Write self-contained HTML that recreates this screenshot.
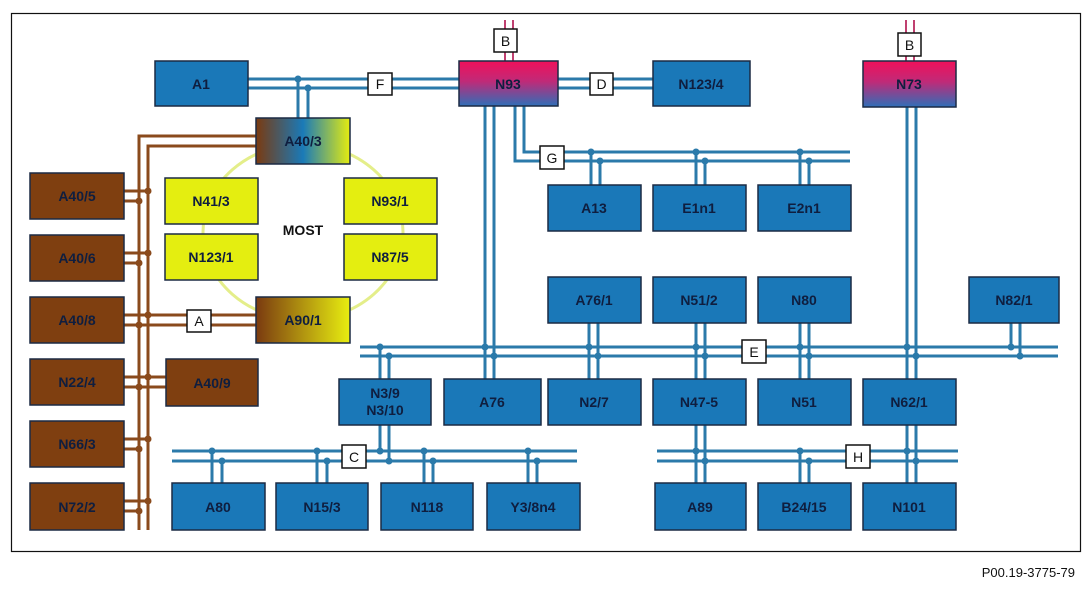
<!DOCTYPE html>
<html><head><meta charset="utf-8"><style>
html,body{margin:0;padding:0;background:#fff}
svg{display:block}
text{font-family:"Liberation Sans",Arial,sans-serif}
.bx{stroke:#1b2a44;stroke-width:1.5}
.lb{font-weight:bold;font-size:14px;fill:#0f1e3f;text-anchor:middle;dominant-baseline:central}
.bl{stroke:#2b7aaa;stroke-width:3;fill:none}
.br{stroke:#8a4a1c;stroke-width:3;fill:none}
.tag{fill:#fff;stroke:#111;stroke-width:1.5}
.tt{font-size:14px;fill:#111;text-anchor:middle;dominant-baseline:central}
</style></head><body>
<svg width="1092" height="591" viewBox="0 0 1092 591" xmlns="http://www.w3.org/2000/svg">
<defs>
<linearGradient id="mag" x1="0" y1="0" x2="0" y2="1"><stop offset="0" stop-color="#f0105a"/><stop offset="0.45" stop-color="#c02a78"/><stop offset="1" stop-color="#2f6fb8"/></linearGradient>
<linearGradient id="a403" x1="0" y1="0" x2="1" y2="0"><stop offset="0" stop-color="#7a3a10"/><stop offset="0.5" stop-color="#1a7ab8"/><stop offset="1" stop-color="#e4ec10"/></linearGradient>
<linearGradient id="a901" x1="0" y1="0" x2="1" y2="0"><stop offset="0" stop-color="#7a3a10"/><stop offset="1" stop-color="#e8ee10"/></linearGradient>
</defs>
<rect x="11.5" y="13.5" width="1069" height="538" fill="#fff" stroke="#111" stroke-width="1.2"/>

<!-- MOST ring -->
<ellipse cx="303" cy="232" rx="100" ry="88" fill="none" stroke="#e4ee8a" stroke-width="3"/>

<!-- Brown wiring -->
<g class="br">
<path d="M256 136H139V530"/><path d="M256 146H148V530"/>
<path d="M124 191H148M124 201H139"/>
<path d="M124 253H148M124 263H139"/>
<path d="M124 315H256M124 325H256"/>
<path d="M124 377H166M124 387H166"/>
<path d="M124 439H148M124 449H139"/>
<path d="M124 501H148M124 511H139"/>
</g>
<g fill="#8a4a1c">
<circle cx="148" cy="191" r="3.5"/><circle cx="139" cy="201" r="3.5"/>
<circle cx="148" cy="253" r="3.5"/><circle cx="139" cy="263" r="3.5"/>
<circle cx="148" cy="315" r="3.5"/><circle cx="139" cy="325" r="3.5"/>
<circle cx="148" cy="377" r="3.5"/><circle cx="139" cy="387" r="3.5"/>
<circle cx="148" cy="439" r="3.5"/><circle cx="139" cy="449" r="3.5"/>
<circle cx="148" cy="501" r="3.5"/><circle cx="139" cy="511" r="3.5"/>
</g>

<!-- Blue wiring -->
<g class="bl">
<path d="M248 79H459M248 88H459"/>
<path d="M298 79V118M308 88V118"/>
<path d="M558 79H653M558 88H653"/>
<path d="M505 61V20M513 61V20" stroke="#c04070" stroke-width="2"/>
<path d="M906 61V20M914 61V20" stroke="#c04070" stroke-width="2"/>
<path d="M485 106V379M494 106V379"/>
<path d="M515 106V161H850M524 106V152H850"/>
<path d="M591 152V185M600 161V185M696 152V185M705 161V185M800 152V185M809 161V185"/>
<path d="M907 107V483M916 107V483"/>
<path d="M360 347H1058M360 356H1058"/>
<path d="M380 347V451M389 356V461"/>
<path d="M589 323V379M598 323V379M696 323V483M705 323V483M800 323V379M809 323V379"/>
<path d="M1011 323V347M1020 323V356"/>
<path d="M172 451H577M172 461H577"/>
<path d="M212 451V483M222 461V483M317 451V483M327 461V483M424 451V483M433 461V483M528 451V483M537 461V483"/>
<path d="M657 451H958M657 461H958"/>
<path d="M800 451V483M809 461V483"/>
</g>
<g fill="#2b7aaa">
<circle cx="298" cy="79" r="3.5"/><circle cx="308" cy="88" r="3.5"/>
<circle cx="591" cy="152" r="3.5"/><circle cx="600" cy="161" r="3.5"/>
<circle cx="696" cy="152" r="3.5"/><circle cx="705" cy="161" r="3.5"/>
<circle cx="800" cy="152" r="3.5"/><circle cx="809" cy="161" r="3.5"/>
<circle cx="380" cy="347" r="3.5"/><circle cx="389" cy="356" r="3.5"/>
<circle cx="485" cy="347" r="3.5"/><circle cx="494" cy="356" r="3.5"/>
<circle cx="589" cy="347" r="3.5"/><circle cx="598" cy="356" r="3.5"/>
<circle cx="696" cy="347" r="3.5"/><circle cx="705" cy="356" r="3.5"/>
<circle cx="800" cy="347" r="3.5"/><circle cx="809" cy="356" r="3.5"/>
<circle cx="907" cy="347" r="3.5"/><circle cx="916" cy="356" r="3.5"/>
<circle cx="1011" cy="347" r="3.5"/><circle cx="1020" cy="356" r="3.5"/>
<circle cx="212" cy="451" r="3.5"/><circle cx="222" cy="461" r="3.5"/>
<circle cx="317" cy="451" r="3.5"/><circle cx="327" cy="461" r="3.5"/>
<circle cx="380" cy="451" r="3.5"/><circle cx="389" cy="461" r="3.5"/>
<circle cx="424" cy="451" r="3.5"/><circle cx="433" cy="461" r="3.5"/>
<circle cx="528" cy="451" r="3.5"/><circle cx="537" cy="461" r="3.5"/>
<circle cx="696" cy="451" r="3.5"/><circle cx="705" cy="461" r="3.5"/>
<circle cx="800" cy="451" r="3.5"/><circle cx="809" cy="461" r="3.5"/>
<circle cx="907" cy="451" r="3.5"/><circle cx="916" cy="461" r="3.5"/>
</g>

<!-- Boxes -->
<g class="bx" fill="#1a78b8">
<rect x="155" y="61" width="93" height="45"/>
<rect x="653" y="61" width="97" height="45"/>
<rect x="548" y="185" width="93" height="46"/><rect x="653" y="185" width="93" height="46"/><rect x="758" y="185" width="93" height="46"/>
<rect x="548" y="277" width="93" height="46"/><rect x="653" y="277" width="93" height="46"/><rect x="758" y="277" width="93" height="46"/>
<rect x="969" y="277" width="90" height="46"/>
<rect x="339" y="379" width="92" height="46"/><rect x="444" y="379" width="97" height="46"/>
<rect x="548" y="379" width="93" height="46"/><rect x="653" y="379" width="93" height="46"/><rect x="758" y="379" width="93" height="46"/><rect x="863" y="379" width="93" height="46"/>
<rect x="172" y="483" width="93" height="47"/><rect x="276" y="483" width="92" height="47"/><rect x="381" y="483" width="92" height="47"/><rect x="487" y="483" width="93" height="47"/>
<rect x="655" y="483" width="91" height="47"/><rect x="758" y="483" width="93" height="47"/><rect x="863" y="483" width="93" height="47"/>
</g>
<rect class="bx" x="459" y="61" width="99" height="45" fill="url(#mag)"/>
<rect class="bx" x="863" y="61" width="93" height="46" fill="url(#mag)"/>
<rect class="bx" x="256" y="118" width="94" height="46" fill="url(#a403)"/>
<rect class="bx" x="256" y="297" width="94" height="46" fill="url(#a901)"/>
<g class="bx" fill="#e4ee10">
<rect x="165" y="178" width="93" height="46"/><rect x="344" y="178" width="93" height="46"/>
<rect x="165" y="234" width="93" height="46"/><rect x="344" y="234" width="93" height="46"/>
</g>
<g class="bx" fill="#7f3f10">
<rect x="30" y="173" width="94" height="46"/><rect x="30" y="235" width="94" height="46"/>
<rect x="30" y="297" width="94" height="46"/><rect x="30" y="359" width="94" height="46"/>
<rect x="30" y="421" width="94" height="46"/><rect x="30" y="483" width="94" height="47"/>
<rect x="166" y="359" width="92" height="47"/>
</g>

<!-- Labels -->
<g class="lb">
<text x="201" y="84">A1</text><text x="508" y="84">N93</text><text x="701" y="84">N123/4</text><text x="909" y="84">N73</text>
<text x="303" y="141">A40/3</text><text x="303" y="320">A90/1</text>
<text x="211" y="201">N41/3</text><text x="390" y="201">N93/1</text>
<text x="211" y="257">N123/1</text><text x="390" y="257">N87/5</text>
<text x="303" y="230" style="fill:#111">MOST</text>
<text x="77" y="196">A40/5</text><text x="77" y="258">A40/6</text><text x="77" y="320">A40/8</text>
<text x="77" y="382">N22/4</text><text x="77" y="444">N66/3</text><text x="77" y="507">N72/2</text>
<text x="212" y="383">A40/9</text>
<text x="594" y="208">A13</text><text x="699" y="208">E1n1</text><text x="804" y="208">E2n1</text>
<text x="594" y="300">A76/1</text><text x="699" y="300">N51/2</text><text x="804" y="300">N80</text><text x="1014" y="300">N82/1</text>
<text x="385" y="393">N3/9</text><text x="385" y="410">N3/10</text>
<text x="492" y="402">A76</text><text x="594" y="402">N2/7</text><text x="699" y="402">N47-5</text><text x="804" y="402">N51</text><text x="909" y="402">N62/1</text>
<text x="218" y="507">A80</text><text x="322" y="507">N15/3</text><text x="427" y="507">N118</text><text x="533" y="507">Y3/8n4</text>
<text x="700" y="507">A89</text><text x="804" y="507">B24/15</text><text x="909" y="507">N101</text>
</g>

<!-- Tags -->
<g>
<rect class="tag" x="494" y="29" width="23" height="23"/><text class="tt" x="505.5" y="41">B</text>
<rect class="tag" x="898" y="33" width="23" height="23"/><text class="tt" x="909.5" y="45">B</text>
<rect class="tag" x="368" y="73" width="24" height="22"/><text class="tt" x="380" y="84">F</text>
<rect class="tag" x="590" y="73" width="23" height="22"/><text class="tt" x="601.5" y="84">D</text>
<rect class="tag" x="540" y="146" width="24" height="23"/><text class="tt" x="552" y="158">G</text>
<rect class="tag" x="187" y="310" width="24" height="22"/><text class="tt" x="199" y="321">A</text>
<rect class="tag" x="742" y="340" width="24" height="23"/><text class="tt" x="754" y="352">E</text>
<rect class="tag" x="342" y="445" width="24" height="23"/><text class="tt" x="354" y="457">C</text>
<rect class="tag" x="846" y="445" width="24" height="23"/><text class="tt" x="858" y="457">H</text>
</g>

<text x="1075" y="577" style="font-size:13px;fill:#111;text-anchor:end">P00.19-3775-79</text>
</svg>
</body></html>
